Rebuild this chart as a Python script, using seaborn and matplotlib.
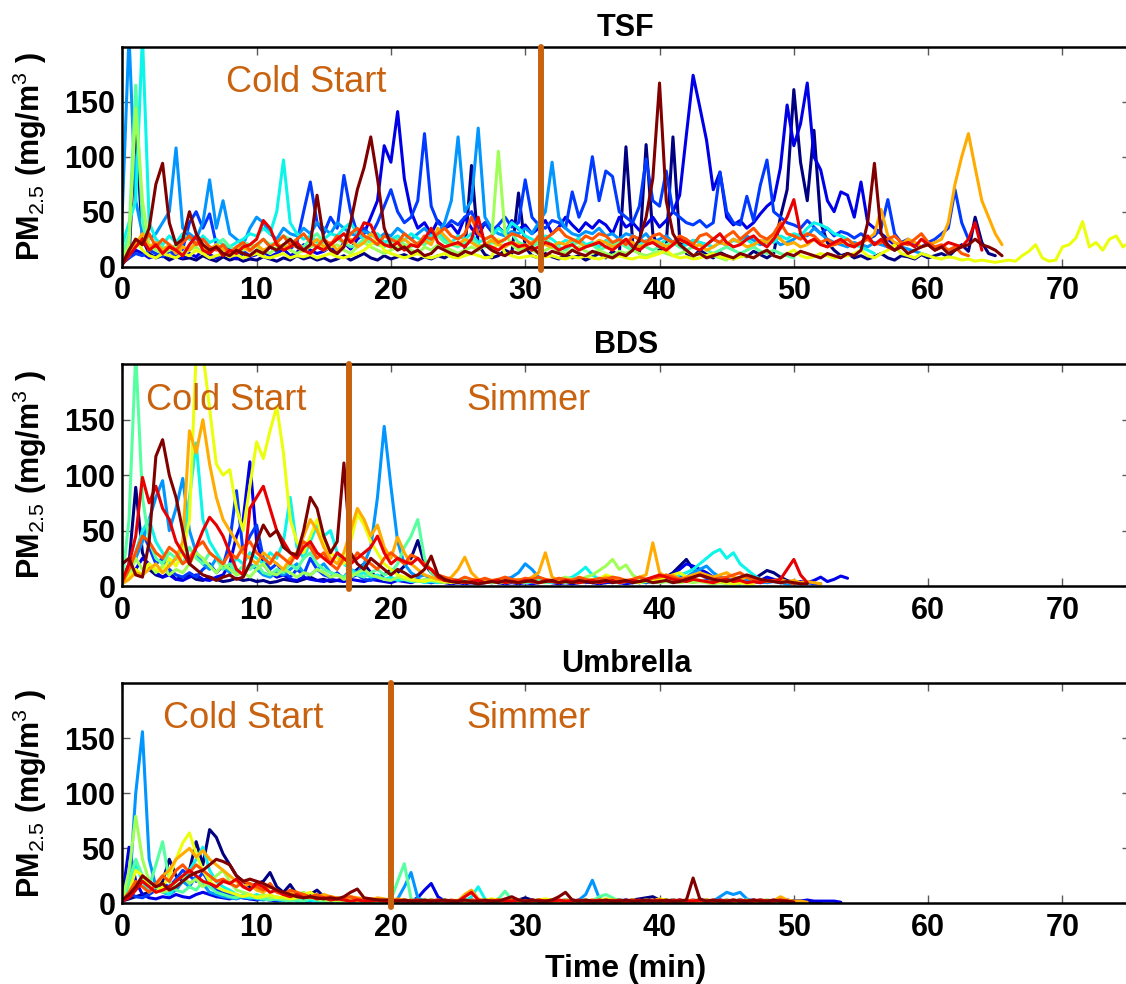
import numpy as np
import pandas as pd
import matplotlib
matplotlib.use("Agg")
import matplotlib.pyplot as plt
import seaborn as sns

# PM2.5 traces (mg/m3), one value every 30 s, one list per test run
STEP_MIN = 0.5

# ---------------- TSF (three-stone fire) ----------------
tsf_01 = [3, 8, 130, 25, 12, 8, 10, 6, 9, 7,
          8, 6, 10, 7, 5, 9, 6, 8, 5, 7,
          6, 9, 7, 5, 8, 6, 10, 7, 9, 6,
          8, 5, 7, 10, 6, 9, 12, 8, 6, 10,
          7, 9, 11, 8, 6, 9, 7, 10, 8, 12,
          9, 14, 92, 20, 11, 8, 10, 15, 12, 67,
          18, 10, 8, 12, 9, 7, 11, 8, 10, 6,
          9, 12, 8, 14, 10, 109, 22, 12, 111, 30,
          14, 20, 118, 25, 12, 9, 15, 11, 8, 13,
          10, 7, 12, 9, 14, 11, 8, 12, 45, 70,
          161, 95, 60, 124, 40, 22, 15, 10, 12, 8,
          10, 7, 9, 12, 8, 6, 10, 9, 7, 11,
          8, 10, 12, 9, 15, 20, 14, 45, 22, 12,
          10]
tsf_02 = [5, 10, 15, 12, 8, 10, 14, 9, 11, 8,
          12, 9, 15, 11, 8, 13, 10, 7, 12, 9,
          11, 14, 9, 12, 16, 10, 13, 20, 15, 12,
          14, 18, 12, 22, 16, 25, 30, 45, 60, 110,
          95, 141, 80, 50, 35, 40, 30, 42, 35, 38,
          30, 45, 35, 28, 40, 32, 36, 30, 42, 34,
          38, 30, 35, 42, 30, 36, 45, 38, 32, 40,
          35, 42, 38, 30, 45, 36, 40, 33, 38, 45,
          36, 42, 50, 65, 120, 174, 145, 115, 70, 86,
          45, 38, 42, 35, 40, 48, 55, 60, 90, 147,
          110, 130, 167, 100, 88, 60, 50, 68, 65, 45,
          77, 40, 35, 30, 25, 20, 18]
tsf_03 = [4, 8, 12, 10, 15, 12, 9, 14, 11, 16,
          40, 50, 35, 48, 20, 15, 18, 12, 14, 10,
          15, 12, 18, 14, 20, 16, 22, 50, 77, 40,
          30, 45, 35, 83, 50, 30, 35, 28, 40, 55,
          70, 50, 40, 45, 60, 121, 55, 40, 35, 42,
          38, 45, 50, 35, 40, 32, 38, 45, 36, 40,
          79, 45, 38, 35, 42, 40, 35, 68, 45, 60,
          100, 60, 87, 82, 50, 45, 40, 55, 98, 60,
          55, 87, 50, 45, 40, 38, 42, 36, 40, 86,
          50, 40, 38, 64, 42, 74, 97, 50, 45, 40,
          38, 35, 42, 36, 30, 35, 28, 32, 30, 26,
          30, 25, 28, 35, 61, 30, 22, 25, 20, 18,
          22, 25, 30, 35, 70, 40, 25]
tsf_04 = [50, 210, 60, 30, 25, 30, 40, 50, 108, 35,
          30, 25, 40, 79, 35, 60, 30, 25, 20, 35,
          45, 40, 30, 25, 35, 30, 28, 35, 30, 40,
          35, 30, 40, 35, 30, 28, 32, 30, 25, 30,
          28, 35, 30, 25, 30, 35, 28, 30, 40, 60,
          118, 50, 60, 126, 45, 35, 30, 28, 32, 30,
          35, 30, 40, 50, 95, 45, 35, 30, 28, 32,
          30, 35, 28, 30, 25, 30, 28, 25, 30, 22,
          25, 28, 22, 25, 20, 24, 22, 20, 25, 22,
          20, 25, 22, 28, 24, 20, 22, 25, 20, 22,
          25, 30, 28, 35, 30, 25, 22, 20, 18, 22,
          20, 18, 22, 20, 18, 15, 18, 16, 14, 12,
          10]
tsf_05 = [20, 40, 60, 210, 40, 25, 20, 28, 22, 30,
          25, 20, 28, 22, 25, 20, 18, 22, 25, 30,
          28, 35, 30, 50, 97, 40, 30, 25, 28, 22,
          25, 30, 28, 35, 40, 30, 25, 28, 30, 22,
          25, 28, 24, 30, 26, 22, 28, 32, 25, 22,
          28, 25, 30, 22, 25, 28, 35, 30, 40, 35,
          28, 25, 22, 28, 25, 20, 24, 22, 26, 20,
          22, 18, 24, 20, 25, 22, 18, 20, 24, 22,
          20, 25, 22, 18, 20, 24, 22, 20, 18, 22,
          20, 24, 22, 25, 20, 22, 25, 22, 28, 25,
          30, 28, 35, 40, 38, 35, 30, 28, 25, 20,
          18, 15, 12]
tsf_06 = [10, 30, 165, 40, 15, 20, 18, 15, 20, 18,
          15, 22, 18, 15, 20, 25, 18, 15, 22, 20,
          18, 25, 20, 22, 28, 25, 20, 18, 25, 30,
          22, 20, 25, 22, 18, 20, 25, 22, 20, 18,
          22, 25, 20, 18, 22, 20, 25, 28, 22, 20,
          18, 22, 25, 20, 18, 22, 20, 25, 30, 22,
          20, 18, 22, 25, 20, 18, 15, 20, 22, 18,
          20, 15, 18, 20, 22, 18, 15, 20, 18, 15,
          18, 20, 22, 18, 15, 18, 20, 15, 12, 15,
          18, 15, 12, 15, 18, 14, 12, 15, 12, 10,
          8]
tsf_07 = [8, 20, 144, 60, 20, 15, 12, 15, 18, 12,
          15, 18, 12, 15, 20, 15, 12, 18, 15, 20,
          18, 15, 12, 18, 20, 15, 12, 15, 18, 20,
          15, 18, 20, 15, 12, 18, 22, 18, 15, 12,
          15, 18, 20, 15, 12, 18, 15, 20, 18, 15,
          12, 15, 18, 15, 20, 25, 105, 30, 20, 15,
          18, 15, 12, 15, 18, 14, 12, 15, 18, 14,
          12, 15, 12, 10, 14, 12, 15, 12, 10, 12,
          14, 12, 10, 12, 14, 10, 12, 9, 10, 8,
          6]
tsf_08 = [5, 10, 25, 15, 10, 8, 12, 10, 8, 12,
          10, 15, 12, 8, 10, 12, 9, 11, 8, 10,
          12, 9, 8, 10, 12, 8, 10, 9, 11, 8,
          10, 12, 9, 8, 10, 12, 15, 20, 25, 15,
          12, 10, 8, 10, 12, 9, 8, 10, 12, 9,
          8, 10, 12, 10, 8, 9, 25, 12, 10, 8,
          9, 10, 8, 9, 10, 8, 7, 9, 8, 10,
          8, 7, 9, 8, 10, 8, 7, 9, 8, 10,
          12, 15, 10, 8, 9, 7, 8, 10, 12, 9,
          8, 7, 9, 10, 8, 12, 15, 10, 8, 12,
          15, 10, 8, 9, 12, 10, 8, 9, 10, 12,
          15, 10, 8, 12, 15, 20, 12, 10, 8, 12,
          10, 8, 7, 9, 8, 6, 7, 5, 6, 5,
          4, 5, 6, 5, 10, 14, 20, 8, 5, 6,
          18, 20, 26, 41, 18, 22, 15, 25, 28, 18,
          22]
tsf_09 = [5, 12, 20, 30, 18, 22, 15, 20, 12, 18,
          15, 22, 18, 14, 20, 16, 12, 15, 18, 14,
          20, 15, 18, 22, 16, 20, 18, 14, 20, 25,
          18, 22, 15, 20, 25, 18, 22, 30, 25, 20,
          18, 22, 25, 20, 18, 24, 20, 35, 28, 22,
          20, 25, 22, 18, 20, 24, 20, 18, 22, 20,
          18, 22, 25, 20, 18, 22, 20, 25, 22, 18,
          20, 24, 22, 18, 20, 25, 22, 18, 20, 24,
          22, 18, 20, 24, 22, 18, 20, 15, 18, 22,
          20, 25, 22, 18, 20, 24, 22, 30, 25, 20,
          22, 18, 20, 25, 22, 18, 20, 24, 20, 18,
          22, 25, 30, 52, 28, 22, 20, 25, 22, 18,
          20, 22, 25, 40, 75, 100, 121, 90, 60, 45,
          30, 20]
tsf_10 = [3, 15, 25, 20, 30, 18, 25, 20, 15, 22,
          28, 20, 25, 18, 15, 20, 12, 18, 22, 15,
          20, 25, 18, 22, 28, 20, 25, 30, 22, 18,
          25, 20, 28, 22, 30, 35, 28, 25, 20, 28,
          25, 22, 30, 25, 20, 28, 25, 30, 35, 28,
          25, 30, 45, 30, 25, 28, 22, 25, 30, 28,
          25, 20, 28, 25, 30, 35, 28, 25, 22, 28,
          25, 30, 28, 22, 25, 20, 28, 25, 22, 28,
          30, 25, 22, 28, 25, 20, 28, 30, 25, 22,
          28, 32, 25, 30, 35, 28, 25, 30, 40, 30,
          28, 25, 30, 28, 22, 25, 20, 22, 25, 20,
          22, 25, 20, 22, 25, 28, 22, 20, 25, 30,
          22, 18, 20, 15, 18, 12, 10]
tsf_11 = [2, 10, 18, 25, 15, 20, 12, 18, 15, 10,
          20, 28, 15, 12, 18, 10, 15, 12, 18, 20,
          25, 42, 35, 20, 15, 18, 22, 15, 12, 18,
          15, 20, 25, 30, 22, 28, 40, 38, 25, 20,
          18, 22, 15, 20, 18, 25, 35, 22, 18, 20,
          22, 18, 25, 45, 20, 18, 15, 20, 22, 18,
          20, 15, 18, 22, 20, 15, 18, 20, 15, 18,
          20, 22, 18, 15, 20, 25, 18, 15, 20, 22,
          18, 15, 20, 25, 22, 18, 15, 20, 25, 30,
          22, 18, 20, 25, 28, 22, 18, 25, 35, 45,
          61, 30, 22, 25, 20, 18, 22, 25, 20, 18,
          22, 28, 20, 25, 18, 15, 20, 22, 18, 25,
          20, 15, 18, 22, 20, 18, 25, 40, 15]
tsf_12 = [2, 15, 25, 20, 35, 75, 94, 40, 20, 25,
          50, 30, 20, 15, 18, 12, 10, 15, 12, 10,
          15, 12, 18, 15, 20, 25, 18, 15, 20, 65,
          25, 15, 12, 18, 40, 70, 90, 118, 80, 35,
          20, 15, 18, 12, 15, 10, 12, 18, 15, 12,
          10, 14, 12, 16, 20, 15, 12, 10, 14, 12,
          15, 18, 12, 10, 14, 12, 10, 15, 12, 10,
          14, 12, 10, 8, 12, 10, 15, 25, 45, 80,
          167, 60, 30, 20, 15, 10, 12, 8, 10, 12,
          10, 8, 12, 10, 8, 12, 15, 10, 8, 12,
          10, 14, 12, 10, 8, 12, 10, 8, 12, 10,
          15, 40, 94, 30, 20, 15, 18, 12, 15, 18,
          20, 15, 18, 12, 15, 18, 20, 25, 20, 18,
          15, 10]

# ---------------- BDS ----------------
bds_01 = [5, 20, 89, 30, 15, 10, 8, 12, 6, 8,
          10, 6, 5, 8, 6, 4, 5, 7, 5, 6,
          4, 5, 3, 4, 6, 5, 4, 6, 8, 5,
          6, 4, 5, 7, 10, 15, 20, 12, 8, 10,
          15, 12, 18, 25, 41, 20, 12, 8, 5, 4,
          3, 4, 3, 5, 4, 3, 4, 3, 5, 4,
          3, 4, 3, 5, 4, 3, 4, 3, 4, 5,
          3, 4, 3, 4, 3, 5, 4, 3, 4, 5,
          6, 8, 12, 18, 24, 15, 10, 8, 5, 4,
          3, 4, 5, 4, 6, 10, 14, 12, 8, 5,
          3]
bds_02 = [3, 8, 15, 25, 20, 12, 8, 10, 6, 5,
          8, 10, 6, 5, 8, 10, 20, 45, 60, 112,
          40, 20, 12, 8, 10, 6, 5, 8, 6, 5,
          4, 6, 5, 4, 6, 5, 4, 6, 5, 4,
          3, 5, 4, 3, 5, 4, 3, 4, 3, 2,
          3, 2, 3, 2, 3, 4, 3, 2, 3, 2,
          3, 2, 3, 4, 3, 2, 3, 2, 3, 4,
          3, 2, 3, 4, 3, 2, 3, 4, 3, 5,
          6, 8, 10, 15, 20, 18, 15, 12, 8, 6,
          5, 4, 5, 6, 4, 5, 8, 6, 5, 4,
          3, 4, 3, 5, 8, 4, 6, 9, 7]
bds_03 = [2, 10, 30, 48, 35, 20, 25, 15, 10, 8,
          12, 8, 15, 20, 12, 18, 40, 86, 30, 45,
          55, 25, 15, 20, 12, 8, 15, 10, 25, 15,
          10, 8, 12, 6, 8, 10, 6, 5, 8, 6,
          5, 7, 5, 4, 6, 4, 3, 5, 4, 3,
          4, 3, 5, 4, 3, 4, 3, 5, 4, 3,
          4, 3, 4, 5, 3, 4, 3, 4, 5, 3,
          4, 3, 4, 3, 5, 4, 3, 4, 3, 4,
          5, 4, 6, 8, 6, 5, 4, 6, 5, 4,
          3, 4, 3, 5, 4, 3, 4, 5, 3, 4,
          3, 2, 3, 2, 2]
bds_04 = [5, 15, 25, 40, 60, 80, 95, 50, 70, 97,
          50, 30, 20, 15, 25, 18, 12, 15, 10, 20,
          15, 10, 8, 12, 10, 15, 20, 12, 10, 15,
          20, 12, 10, 8, 15, 12, 20, 35, 80, 144,
          90, 40, 20, 12, 8, 10, 6, 5, 4, 6,
          5, 4, 3, 5, 4, 3, 5, 6, 8, 12,
          20, 15, 8, 5, 4, 3, 5, 4, 6, 5,
          4, 3, 5, 4, 3, 5, 4, 3, 5, 4,
          3, 5, 4, 6, 8, 12, 15, 18, 12, 8,
          6, 5, 4, 6, 5, 4, 3, 4, 3, 2,
          2]
bds_05 = [3, 10, 30, 50, 60, 40, 30, 20, 25, 35,
          80, 129, 60, 40, 30, 20, 15, 25, 20, 30,
          25, 20, 30, 25, 40, 80, 35, 25, 40, 55,
          45, 50, 30, 20, 15, 10, 12, 8, 10, 6,
          8, 5, 6, 4, 5, 3, 4, 3, 5, 4,
          3, 4, 3, 5, 4, 3, 4, 3, 5, 4,
          3, 4, 5, 4, 3, 5, 6, 8, 12, 17,
          10, 6, 4, 5, 3, 4, 5, 3, 4, 5,
          4, 6, 8, 10, 12, 15, 20, 25, 30, 33,
          25, 30, 20, 15, 10, 6, 4]
bds_06 = [5, 60, 210, 80, 40, 25, 20, 30, 25, 20,
          35, 25, 20, 30, 25, 15, 20, 12, 18, 15,
          20, 12, 10, 15, 12, 20, 15, 25, 30, 20,
          15, 12, 10, 8, 12, 10, 8, 12, 15, 10,
          12, 20, 35, 45, 60, 25, 12, 8, 6, 5,
          4, 5, 3, 4, 5, 3, 4, 3, 5, 4,
          3, 4, 5, 3, 4, 5, 3, 4, 3, 5,
          4, 3, 5, 4, 3, 4, 5, 3, 4, 3,
          5, 4, 3, 5, 4, 6, 5, 4, 3, 4,
          3, 2, 2]
bds_07 = [3, 10, 25, 15, 20, 12, 18, 10, 15, 12,
          20, 30, 25, 18, 12, 20, 15, 10, 12, 8,
          15, 20, 12, 10, 15, 12, 8, 12, 10, 15,
          12, 8, 10, 6, 8, 12, 15, 10, 8, 6,
          5, 8, 6, 5, 4, 6, 5, 4, 3, 5,
          4, 3, 5, 4, 3, 4, 3, 5, 4, 3,
          4, 5, 3, 4, 5, 6, 8, 6, 5, 8,
          10, 14, 18, 24, 15, 19, 10, 6, 4, 5,
          3, 4, 5, 3, 4, 3, 4, 3, 2, 3,
          2]
bds_08 = [2, 8, 15, 10, 20, 15, 12, 25, 18, 30,
          60, 210, 210, 160, 110, 100, 105, 70, 50, 90,
          130, 115, 140, 162, 120, 60, 40, 30, 45, 60,
          40, 30, 25, 20, 40, 65, 55, 40, 30, 20,
          15, 10, 8, 6, 5, 4, 6, 5, 4, 3,
          4, 3, 5, 4, 3, 4, 5, 3, 4, 3,
          5, 4, 3, 4, 5, 3, 4, 5, 3, 4,
          5, 6, 10, 8, 6, 5, 4, 3, 5, 4,
          6, 8, 10, 12, 8, 6, 5, 4, 3, 4,
          3, 2, 3, 2, 2]
bds_09 = [2, 6, 12, 10, 15, 20, 12, 18, 25, 40,
          140, 120, 150, 110, 80, 60, 50, 40, 30, 25,
          20, 30, 25, 20, 15, 25, 30, 45, 60, 50,
          35, 25, 20, 30, 50, 70, 60, 45, 55, 35,
          25, 44, 30, 20, 15, 10, 8, 6, 5, 8,
          15, 26, 12, 6, 5, 4, 6, 5, 4, 6,
          5, 8, 12, 30, 8, 5, 4, 6, 5, 4,
          6, 5, 8, 6, 5, 4, 6, 8, 10, 39,
          12, 8, 10, 6, 8, 10, 12, 10, 8, 10,
          12, 8, 6, 8, 5, 6, 4, 5, 6, 4,
          5, 3, 4, 3, 2]
bds_10 = [3, 15, 30, 45, 40, 30, 25, 35, 30, 20,
          25, 35, 40, 30, 25, 20, 30, 25, 35, 40,
          30, 25, 20, 30, 25, 20, 30, 40, 35, 25,
          30, 20, 15, 25, 20, 30, 25, 20, 15, 25,
          30, 25, 20, 28, 25, 20, 15, 10, 8, 6,
          5, 8, 6, 5, 7, 5, 6, 8, 6, 5,
          7, 6, 8, 6, 5, 7, 6, 5, 8, 6,
          5, 7, 6, 8, 7, 5, 6, 8, 6, 7,
          8, 10, 8, 6, 7, 8, 10, 8, 6, 7,
          8, 10, 12, 8, 6, 5, 4, 5, 3, 4,
          2]
bds_11 = [5, 20, 45, 98, 75, 90, 70, 60, 40, 30,
          20, 35, 50, 62, 55, 45, 30, 15, 10, 70,
          80, 90, 70, 50, 40, 30, 25, 35, 40, 30,
          25, 20, 30, 25, 20, 25, 30, 35, 45, 30,
          20, 25, 22, 20, 25, 18, 15, 8, 5, 4,
          5, 3, 4, 5, 3, 4, 5, 3, 4, 3,
          5, 4, 3, 5, 4, 3, 5, 4, 3, 4,
          5, 3, 4, 5, 3, 4, 5, 4, 6, 8,
          10, 8, 6, 5, 4, 6, 5, 4, 3, 5,
          6, 4, 5, 3, 4, 3, 5, 4, 6, 15,
          24, 10, 3]
bds_12 = [20, 25, 10, 8, 40, 117, 132, 100, 80, 50,
          20, 15, 10, 8, 5, 8, 10, 6, 8, 20,
          40, 55, 45, 50, 35, 30, 28, 50, 80, 70,
          45, 30, 40, 111, 30, 20, 15, 25, 20, 15,
          10, 15, 12, 8, 10, 15, 27, 10, 6, 4,
          3, 4, 3, 2, 3, 4, 3, 5, 4, 3,
          4, 5, 3, 4, 5, 3, 4, 3, 5, 4,
          3, 4, 5, 3, 4, 5, 3, 4, 5, 3,
          4, 5, 3, 4, 6, 8, 10, 8, 6, 5,
          4, 6, 8, 10, 8, 6, 5, 4, 3, 4,
          3, 2, 2]

# ---------------- Umbrella ----------------
umb_01 = [2, 4, 6, 8, 10, 12, 20, 40, 25, 20,
          30, 56, 35, 67, 60, 45, 35, 25, 20, 15,
          18, 20, 28, 15, 10, 17, 8, 6, 8, 12,
          6, 4, 5, 3, 4, 3, 2, 3, 2, 2,
          2, 3, 2, 2, 3, 2, 2, 3, 2, 2,
          2, 3, 2, 2, 3, 2, 2, 3, 2, 3,
          5, 3, 2, 2, 3, 2, 2, 3, 2, 2,
          2, 3, 2, 2, 3, 2, 3, 4, 5, 6,
          3, 2, 2, 3, 2, 2, 3, 2, 2, 3,
          2, 2, 3, 2, 2, 3, 2, 2, 3, 2,
          2, 2, 2, 1, 1]
umb_02 = [5, 51, 20, 8, 5, 4, 6, 5, 8, 6,
          5, 8, 10, 8, 6, 5, 4, 6, 5, 4,
          3, 4, 3, 2, 3, 2, 3, 2, 2, 3,
          2, 2, 3, 2, 2, 2, 3, 2, 2, 2,
          2, 3, 2, 2, 5, 12, 18, 6, 2, 2,
          2, 2, 3, 2, 2, 2, 3, 2, 2, 2,
          2, 3, 2, 2, 2, 2, 3, 2, 2, 2,
          2, 3, 2, 2, 2, 3, 2, 2, 3, 2,
          2, 2, 3, 2, 2, 2, 3, 2, 2, 2,
          3, 2, 2, 2, 3, 2, 2, 2, 2, 3,
          2, 2, 3, 2, 2, 2, 2, 1]
umb_03 = [3, 10, 6, 5, 8, 12, 18, 15, 22, 30,
          25, 20, 28, 18, 12, 10, 8, 6, 5, 4,
          5, 4, 3, 4, 3, 2, 3, 2, 3, 2,
          2, 2, 3, 2, 2, 2, 2, 3, 2, 2,
          2, 2, 3, 2, 2, 2, 3, 2, 2, 2,
          2, 3, 2, 2, 2, 2, 3, 2, 2, 2,
          2, 2, 3, 2, 2, 2, 3, 2, 2, 2,
          2, 3, 2, 2, 2, 2, 3, 2, 2, 2,
          2, 2, 3, 2, 2, 2, 2, 3, 2, 2,
          2, 2, 2, 3, 2, 2, 2, 2, 2, 2,
          1]
umb_04 = [3, 8, 100, 156, 40, 15, 10, 8, 12, 20,
          15, 25, 18, 10, 8, 6, 5, 4, 6, 5,
          4, 3, 4, 3, 2, 3, 2, 2, 3, 2,
          2, 2, 3, 2, 2, 2, 2, 3, 2, 2,
          2, 4, 15, 28, 5, 2, 2, 2, 3, 2,
          2, 2, 2, 2, 3, 2, 2, 2, 2, 3,
          2, 2, 2, 3, 2, 2, 2, 2, 3, 8,
          21, 5, 2, 2, 3, 2, 2, 2, 2, 2,
          3, 2, 2, 2, 2, 3, 2, 2, 2, 6,
          10, 8, 10, 4, 2, 2, 3, 2, 2, 2,
          1]
umb_05 = [2, 15, 35, 20, 10, 15, 12, 8, 15, 20,
          30, 40, 51, 30, 20, 15, 12, 8, 6, 5,
          8, 6, 4, 5, 3, 4, 3, 2, 3, 2,
          2, 3, 2, 2, 2, 3, 2, 2, 2, 2,
          3, 2, 2, 2, 2, 3, 2, 2, 2, 2,
          2, 2, 6, 15, 4, 2, 2, 2, 3, 2,
          2, 2, 2, 3, 2, 2, 2, 2, 2, 3,
          2, 2, 2, 2, 3, 2, 2, 2, 2, 2,
          3, 2, 2, 2, 2, 2, 3, 2, 2, 2,
          2, 2, 3, 2, 2, 2, 1]
umb_06 = [3, 20, 40, 25, 15, 35, 56, 20, 12, 10,
          15, 12, 20, 15, 10, 8, 6, 5, 8, 6,
          5, 4, 3, 4, 3, 2, 3, 2, 5, 3,
          2, 3, 2, 2, 3, 2, 2, 2, 3, 2,
          3, 20, 36, 4, 2, 2, 3, 2, 2, 2,
          2, 3, 2, 2, 2, 2, 4, 11, 3, 2,
          2, 2, 3, 2, 2, 2, 2, 3, 2, 2,
          2, 6, 8, 5, 2, 2, 3, 2, 2, 2,
          2, 3, 2, 2, 2, 2, 3, 2, 2, 2,
          2, 2, 3, 2, 2, 2, 1]
umb_07 = [2, 30, 79, 40, 20, 15, 10, 12, 20, 25,
          18, 22, 15, 20, 25, 30, 20, 12, 10, 8,
          6, 8, 5, 6, 4, 5, 8, 10, 6, 4,
          3, 2, 3, 2, 2, 3, 2, 2, 2, 3,
          2, 2, 3, 2, 2, 2, 3, 2, 2, 2,
          3, 2, 2, 2, 3, 2, 2, 2, 3, 2,
          2, 2, 3, 2, 2, 2, 3, 2, 2, 2,
          3, 2, 2, 2, 3, 2, 2, 2, 3, 2,
          2, 2, 3, 2, 2, 2, 3, 2, 2, 2,
          2, 1, 1]
umb_08 = [2, 10, 30, 25, 15, 10, 15, 25, 40, 55,
          64, 45, 30, 20, 15, 12, 10, 8, 6, 8,
          5, 6, 8, 5, 6, 4, 5, 8, 10, 6,
          5, 4, 3, 4, 3, 2, 3, 4, 3, 2,
          3, 2, 3, 2, 2, 3, 2, 2, 3, 2,
          2, 3, 2, 2, 3, 4, 3, 2, 2, 3,
          2, 2, 3, 4, 3, 2, 3, 2, 2, 3,
          2, 3, 4, 3, 2, 2, 3, 2, 3, 2,
          4, 3, 2, 2, 3, 2, 2, 3, 2, 2,
          3, 2, 2, 3, 2, 2, 3, 2, 2, 2,
          1]
umb_09 = [2, 8, 15, 25, 20, 15, 25, 30, 40, 45,
          50, 42, 48, 40, 35, 30, 25, 20, 15, 18,
          12, 10, 15, 12, 8, 10, 6, 8, 5, 6,
          8, 6, 5, 4, 6, 5, 4, 3, 5, 4,
          3, 4, 3, 2, 3, 2, 2, 3, 2, 2,
          2, 8, 12, 4, 2, 2, 3, 2, 2, 3,
          2, 2, 3, 2, 2, 3, 2, 2, 2, 3,
          2, 2, 3, 2, 2, 2, 3, 2, 2, 2,
          3, 2, 2, 2, 3, 2, 2, 3, 2, 2,
          2, 3, 2, 2, 2, 3, 2, 2, 6, 3,
          2, 2, 1]
umb_10 = [2, 10, 20, 15, 10, 18, 25, 20, 30, 35,
          28, 35, 30, 25, 20, 22, 18, 15, 20, 18,
          15, 12, 18, 10, 8, 12, 10, 8, 6, 8,
          5, 6, 4, 5, 6, 4, 3, 4, 3, 2,
          3, 2, 2, 3, 2, 2, 3, 2, 2, 3,
          2, 2, 3, 2, 2, 3, 2, 2, 3, 2,
          2, 3, 2, 2, 3, 2, 2, 3, 2, 2,
          3, 2, 2, 3, 2, 2, 3, 2, 2, 3,
          2, 2, 3, 2, 2, 3, 2, 2, 3, 2,
          2, 3, 2, 2, 3, 2, 2, 3, 2, 2,
          1]
umb_11 = [2, 5, 12, 20, 15, 10, 12, 15, 20, 25,
          30, 25, 20, 18, 15, 20, 18, 22, 15, 12,
          18, 15, 10, 12, 8, 6, 8, 5, 6, 4,
          5, 3, 4, 3, 2, 3, 2, 2, 3, 2,
          2, 3, 2, 2, 3, 2, 2, 3, 2, 2,
          2, 6, 10, 3, 2, 2, 3, 2, 2, 3,
          2, 2, 3, 2, 2, 3, 2, 2, 3, 2,
          2, 3, 2, 2, 3, 2, 2, 3, 2, 2,
          3, 2, 2, 3, 2, 2, 3, 2, 2, 3,
          2, 2, 3, 2, 2, 3, 2, 2, 3, 2,
          1]
umb_12 = [3, 8, 15, 25, 20, 15, 18, 12, 15, 20,
          25, 28, 30, 35, 40, 38, 35, 25, 20, 22,
          20, 18, 15, 12, 10, 8, 6, 5, 6, 5,
          4, 5, 4, 6, 10, 13, 5, 4, 3, 3,
          3, 2, 3, 2, 2, 3, 2, 2, 3, 2,
          2, 3, 2, 2, 3, 2, 2, 4, 6, 3,
          2, 3, 2, 2, 3, 6, 10, 3, 2, 3,
          2, 2, 3, 2, 2, 3, 2, 2, 3, 2,
          2, 3, 2, 2, 3, 23, 4, 2, 3, 2,
          2, 3, 2, 2, 3, 2, 2, 3, 2, 2,
          1]

tsf_runs = [tsf_01, tsf_02, tsf_03, tsf_04, tsf_05, tsf_06,
            tsf_07, tsf_08, tsf_09, tsf_10, tsf_11, tsf_12]
bds_runs = [bds_01, bds_02, bds_03, bds_04, bds_05, bds_06,
            bds_07, bds_08, bds_09, bds_10, bds_11, bds_12]
umb_runs = [umb_01, umb_02, umb_03, umb_04, umb_05, umb_06,
            umb_07, umb_08, umb_09, umb_10, umb_11, umb_12]

stove_names = ["TSF", "BDS", "Umbrella"]
phase_boundary = [31.2, 16.9, 20.0]          # end of cold start (min)
phase_labels = [[("Cold Start", 7.7)],
                [("Cold Start", 1.8), ("Simmer", 25.6)],
                [("Cold Start", 3.05), ("Simmer", 25.6)]]


def to_long(runs):
    frames = []
    for k, vals in enumerate(runs):
        frames.append(pd.DataFrame({
            "time": np.arange(len(vals)) * STEP_MIN,
            "pm": vals,
            "run": f"run{k + 1:02d}",
        }))
    return pd.concat(frames, ignore_index=True)


sns.set_style("ticks")
plt.rcParams.update({
    "font.family": ["Liberation Sans", "DejaVu Sans"],
    "mathtext.fontset": "custom",
    "mathtext.rm": "Liberation Sans",
    "mathtext.it": "Liberation Sans:italic",
    "mathtext.bf": "Liberation Sans:bold",
    "text.color": "black",
    "axes.labelcolor": "black",
    "xtick.labelcolor": "black",
    "ytick.labelcolor": "black",
})

ACCENT = "#c9620f"
jet = plt.get_cmap("jet")

W, H = 1126, 984
fig = plt.figure(figsize=(W / 100, H / 100), dpi=100)

left = 122.3 / W
width = 1007.3 / W
# (top px, bottom px) of each panel
boxes = [(46.7, 266.7), (364.3, 586.0), (683.3, 903.3)]

all_runs = [tsf_runs, bds_runs, umb_runs]
for i, (name, runs) in enumerate(zip(stove_names, all_runs)):
    top_px, bot_px = boxes[i]
    ax = fig.add_axes([left, 1 - bot_px / H, width, (bot_px - top_px) / H])
    df = to_long(runs)
    order = [f"run{k + 1:02d}" for k in range(len(runs))]
    palette = [jet(k / (len(runs) - 1)) for k in range(len(runs))]
    sns.lineplot(data=df, x="time", y="pm", hue="run", hue_order=order,
                 palette=palette, estimator=None, errorbar=None, sort=False,
                 legend=False, linewidth=2.2, ax=ax)

    ax.set_xlim(0, 75)
    ax.set_ylim(0, 200)
    ax.set_xticks(np.arange(0, 71, 10))
    ax.set_yticks([0, 50, 100, 150])
    ax.tick_params(axis="both", direction="in", length=6, width=1,
                   color="0.35", labelcolor="black", top=True, right=True,
                   labelsize=22)
    ax.tick_params(axis="y", pad=5)
    ax.tick_params(axis="x", pad=7)
    for lab in ax.get_xticklabels() + ax.get_yticklabels():
        lab.set_fontweight("bold")
    for sp in ax.spines.values():
        sp.set_linewidth(1.8)
        sp.set_color("black")

    ax.set_title(name, fontsize=22, fontweight="bold", pad=8, color="black")
    ax.set_ylabel(r"PM$_{\mathrm{2.5}}$ (mg/m$^{\mathrm{3}}$ )",
                  fontsize=22, fontweight="bold", color="black")
    ax.yaxis.set_label_coords(-0.073, 0.5)
    if i == 2:
        ax.set_xlabel("Time (min)", fontsize=23, fontweight="bold",
                      labelpad=8, color="black")
    else:
        ax.set_xlabel("")

    ax.axvline(phase_boundary[i], ymin=-0.015, ymax=1.0, color=ACCENT,
               linewidth=4.3, clip_on=False, zorder=5)
    for text, x0 in phase_labels[i]:
        ax.text(x0, 159, text, color=ACCENT, fontsize=26,
                ha="left", va="baseline", zorder=6)

fig.savefig("out.png", dpi=100)
